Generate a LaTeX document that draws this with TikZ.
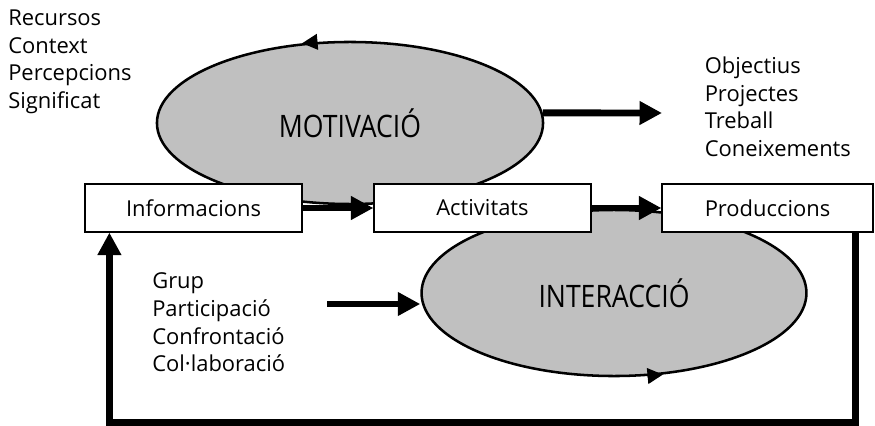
\documentclass[tikz,border=0pt]{standalone}
\usepackage{fontspec}
\setmainfont{Open Sans}
\newfontfamily\blobfont{Open Sans}[FakeStretch=0.86]
\usetikzlibrary{arrows.meta,shapes.geometric,calc}
\definecolor{blobgray}{RGB}{192,192,192}

\begin{document}
\begin{tikzpicture}[x=0.025cm, y=-0.025cm,
	every node/.style={font=\fontsize{15.6}{19.6}\selectfont},
	blob/.style={ellipse, draw, line width=1.8pt, fill=blobgray, inner sep=0pt, font=\blobfont\fontsize{22}{26}\selectfont},
	box/.style={draw, fill=white, line width=0.8pt, minimum width=5.425cm, minimum height=1.2cm, inner sep=0pt},
	words/.style={align=left, anchor=west, inner sep=0pt},
	bigarrow/.style={line width=4.9pt, -{Triangle[length=16pt, width=16pt]}},
	loopmark/.style={line width=1.8pt, -{Triangle[length=11pt, width=11pt]}}]
	\useasboundingbox (0, 0) rectangle (875, 426);
	\draw node[blob, minimum width=9.65cm, minimum height=4.05cm] at (350, 123) (motiv) {MOTIVACIÓ};
	\draw node[blob, minimum width=9.62cm, minimum height=4.15cm] at (614, 293) (interac) {INTERACCIÓ};
	\draw node[box] at (193.5, 208) (info) {Informacions};
	\draw node[box] at (482.5, 208) (act) {Activitats};
	\draw node[box, minimum width=5.275cm] at (767.5, 208) (prod) {Produccions};

	\draw node[words] at (8, 61.7) (fonts) {Recursos\\Context\\Percepcions\\Significat};
	\draw node[words] at (704.5, 106.9) (fites) {Objectius\\Projectes\\Treball\\Coneixements};
	\draw node[words] at (152, 322.4) (grup) {Grup\\Participació\\Confrontació\\Col·laboració};
	\coordinate (fitesin) at (662, 113);
	\coordinate (grupout) at (327, 304);

	\draw [bigarrow] (info) -- (act);
	\draw [bigarrow] (act) -- (prod);
	\draw [bigarrow] (motiv.3) -- (fitesin);
	\draw [bigarrow] (grupout) -- (grupout -| interac.west);
	\draw [bigarrow] ($(prod.south east)+(-18, 0)$) -- ++(0, 190) -| ($(info.south west)+(25, 0)$);
	\draw [loopmark] (motiv.112) -- (motiv.121);
	\draw [loopmark] (interac.-68) -- (interac.-59);
\end{tikzpicture}
\end{document}
